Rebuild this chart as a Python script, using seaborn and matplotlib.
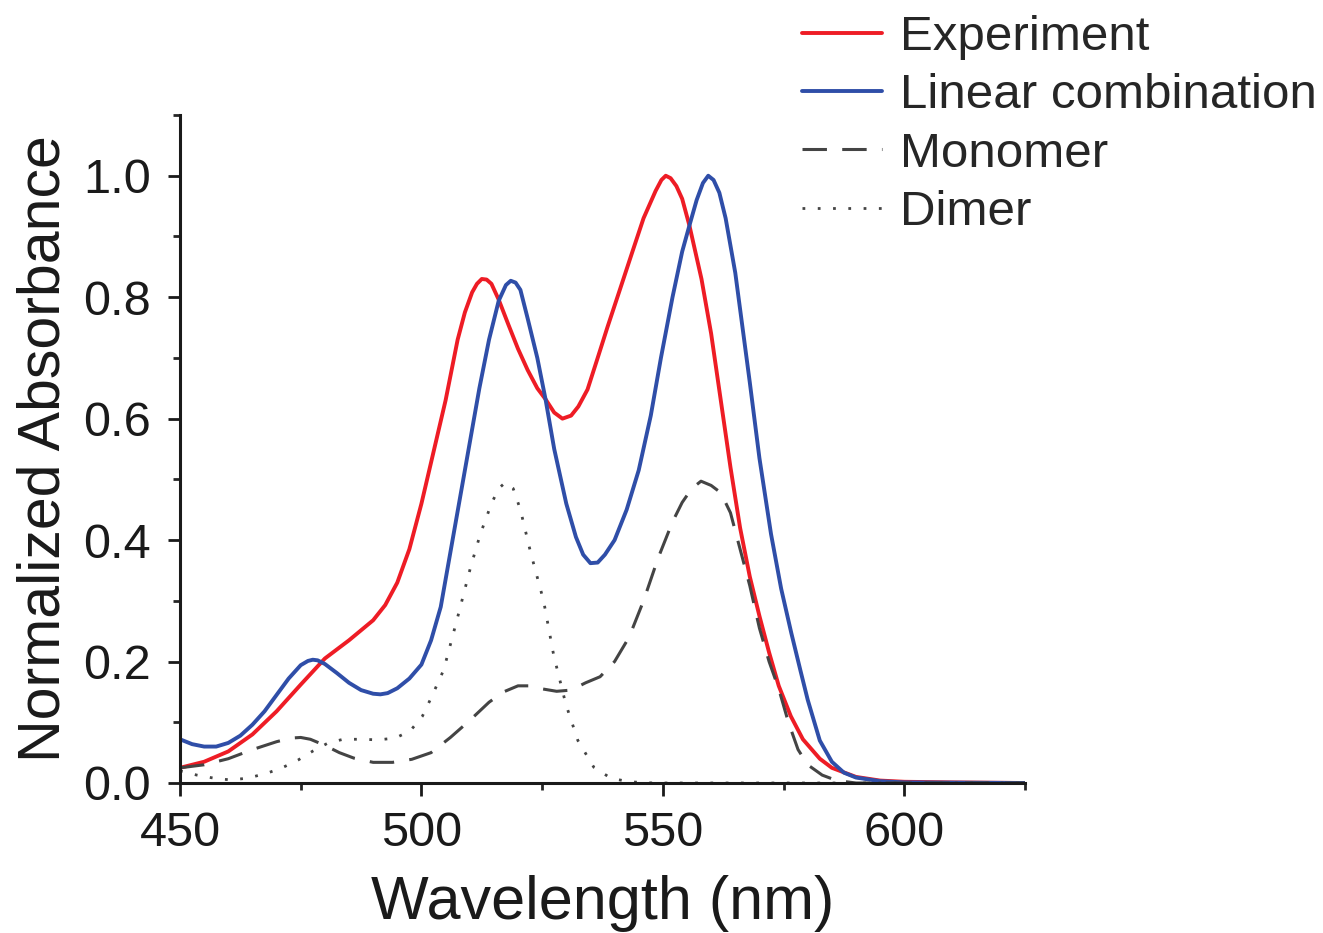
import numpy as np
import pandas as pd
import matplotlib
matplotlib.use("Agg")
import matplotlib.pyplot as plt
import seaborn as sns
from matplotlib.ticker import MultipleLocator

# Experiment
exp_x = [450, 455, 460, 465, 470, 475, 480, 485, 490, 492.5, 495, 497.5, 500, 502.5, 505,
         507.5, 509, 510.5, 511.5, 512.5, 513.5, 514.5, 516, 518, 520, 522, 524, 525.7,
         527.5, 529.2, 531, 532.5, 534.4, 536.5, 538.5, 541, 543.7, 546, 548.5, 549.7,
         550.6, 551.6, 552.8, 554, 555.5, 558, 560, 562, 564, 566, 568, 570, 572, 574,
         576.5, 579, 582.5, 585, 590, 595, 600, 610, 625]
exp_y = [0.025, 0.035, 0.052, 0.080, 0.118, 0.162, 0.205, 0.235, 0.268, 0.293, 0.330,
         0.385, 0.460, 0.545, 0.630, 0.730, 0.775, 0.808, 0.822, 0.830, 0.829, 0.822,
         0.796, 0.755, 0.715, 0.680, 0.650, 0.632, 0.610, 0.600, 0.605, 0.620, 0.648,
         0.700, 0.750, 0.810, 0.875, 0.930, 0.975, 0.993, 1.000, 0.996, 0.983, 0.962,
         0.918, 0.830, 0.740, 0.630, 0.520, 0.420, 0.340, 0.275, 0.215, 0.160, 0.110,
         0.072, 0.040, 0.025, 0.010, 0.004, 0.002, 0.001, 0.0]

# Linear combination
lin_x = [450, 452.5, 455, 457.5, 460, 462.5, 465, 467.5, 470, 472.5, 475, 476.5, 477.5,
         478.5, 480, 482.5, 485, 487.5, 490, 491.5, 493, 495, 497.5, 500, 502, 504, 506,
         508, 510, 512, 514, 516, 517.5, 518.5, 519.5, 520.5, 522, 524, 525.7, 527.5, 530,
         532, 533.5, 535, 536.5, 538, 540, 542.5, 545, 547.5, 549.6, 552, 554, 555.5, 557,
         558.3, 559.4, 560.5, 561.7, 563, 565, 566.5, 568, 570, 572.4, 574.5, 576.6, 578.5,
         580, 582.5, 585, 587.5, 590, 595, 600, 625]
lin_y = [0.072, 0.064, 0.060, 0.060, 0.066, 0.078, 0.096, 0.118, 0.145, 0.172, 0.194,
         0.201, 0.203, 0.202, 0.196, 0.181, 0.165, 0.153, 0.147, 0.146, 0.148, 0.156,
         0.172, 0.195, 0.235, 0.290, 0.380, 0.470, 0.560, 0.650, 0.730, 0.794, 0.820,
         0.827, 0.824, 0.812, 0.765, 0.700, 0.632, 0.550, 0.460, 0.405, 0.376, 0.362,
         0.363, 0.376, 0.400, 0.450, 0.515, 0.605, 0.700, 0.800, 0.875, 0.918, 0.960,
         0.988, 1.000, 0.993, 0.972, 0.930, 0.840, 0.750, 0.660, 0.535, 0.410, 0.320,
         0.247, 0.185, 0.137, 0.070, 0.035, 0.017, 0.009, 0.003, 0.001, 0.0]

# Monomer
mono_x = [450, 455, 460, 465, 470, 473, 475, 477, 480, 483, 486, 490, 494, 498, 502, 506,
          510, 514, 517, 520, 522.5, 525, 528, 531, 534, 537, 540, 543, 546, 549, 552, 554,
          556, 557.9, 560, 562, 564, 566, 568, 570, 572, 574, 576, 578, 580, 583, 586, 590,
          600, 625]
mono_y = [0.025, 0.030, 0.040, 0.055, 0.068, 0.074, 0.075, 0.072, 0.062, 0.050, 0.041,
          0.034, 0.034, 0.039, 0.050, 0.075, 0.103, 0.133, 0.150, 0.160, 0.160, 0.155,
          0.151, 0.153, 0.165, 0.175, 0.200, 0.240, 0.300, 0.370, 0.430, 0.462, 0.485,
          0.497, 0.490, 0.478, 0.445, 0.385, 0.325, 0.255, 0.200, 0.155, 0.100, 0.055,
          0.030, 0.013, 0.004, 0.0, 0.0, 0.0]

# Dimer
dim_x = [450, 453.5, 457, 460.5, 464, 468, 471.4, 474.5, 477.6, 480.7, 483.8, 487.8, 491,
         494.6, 497.7, 500.2, 502, 504.6, 507.4, 510.2, 512.2, 514.5, 516, 517.4, 519,
         520.5, 522.6, 525.3, 527.4, 529.9, 532.4, 535.7, 539.2, 543, 548, 625]
dim_y = [0.020, 0.013, 0.008, 0.005, 0.008, 0.016, 0.026, 0.038, 0.053, 0.066, 0.072,
         0.072, 0.071, 0.074, 0.086, 0.110, 0.140, 0.186, 0.270, 0.356, 0.410, 0.460,
         0.485, 0.495, 0.485, 0.450, 0.380, 0.300, 0.210, 0.130, 0.070, 0.026, 0.008,
         0.002, 0.0, 0.0]

sns.set_style("ticks")
plt.rcParams["font.family"] = ["Liberation Sans", "DejaVu Sans"]

fig = plt.figure(figsize=(13.23, 9.33), dpi=100)
ax = fig.add_axes([180 / 1323, 150 / 933, 845 / 1323, 668 / 933])

sns.lineplot(x=exp_x, y=exp_y, color="#ee1c25", lw=2.8, ax=ax,
             label="Experiment", sort=False)
sns.lineplot(x=lin_x, y=lin_y, color="#2f4ea8", lw=2.8, ax=ax,
             label="Linear combination", sort=False)
sns.lineplot(x=mono_x, y=mono_y, color="#444444", lw=2.2, ax=ax,
             label="Monomer", sort=False, linestyle=(0, (8, 5)))
sns.lineplot(x=dim_x, y=dim_y, color="#444444", lw=2.0, ax=ax,
             label="Dimer", sort=False, linestyle=(0, (1, 4.5)))

ax.set_xlim(450, 625)
ax.set_ylim(0, 1.1)
ax.xaxis.set_major_locator(MultipleLocator(50))
ax.xaxis.set_minor_locator(MultipleLocator(25))
ax.yaxis.set_minor_locator(MultipleLocator(0.1))
ax.set_yticks([0, 0.2, 0.4, 0.6, 0.8, 1.0])
ax.set_yticklabels(["0.0", "0.2", "0.4", "0.6", "0.8", "1.0"])

ax.tick_params(which="major", direction="out", length=9, width=2, labelsize=35,
               colors="#1a1a1a")
ax.tick_params(axis="x", which="major", pad=11)
ax.tick_params(axis="y", which="major", pad=12)
ax.tick_params(which="minor", direction="out", length=5, width=2)
for side in ["left", "bottom"]:
    ax.spines[side].set_linewidth(2.2)
    ax.spines[side].set_color("#1a1a1a")
sns.despine(ax=ax)

ax.set_xlabel("Wavelength (nm)", fontsize=44, labelpad=14, color="#1a1a1a")
ax.set_ylabel("Normalized Absorbance", fontsize=42.5, labelpad=8, color="#1a1a1a")

ax.legend_.remove()
handles, labels = ax.get_legend_handles_labels()
fig.legend(handles, labels, loc="upper left", bbox_to_anchor=(802 / 1323, 1 - 15 / 933),
           frameon=False, fontsize=35.5, handlelength=1.62, handletextpad=0.36,
           labelspacing=0.27, borderpad=0, borderaxespad=0)

fig.savefig("out.png", dpi=100)
